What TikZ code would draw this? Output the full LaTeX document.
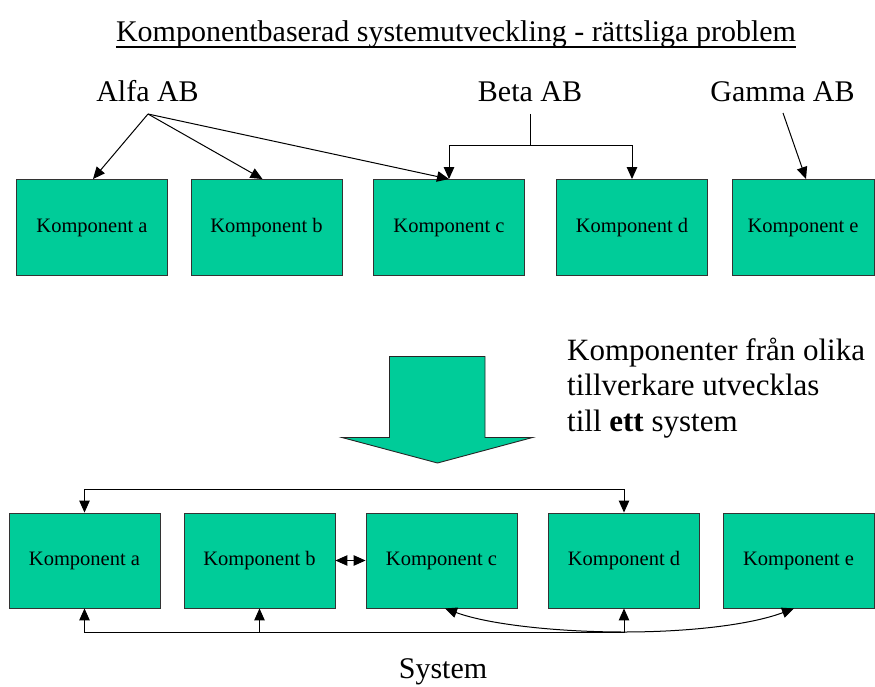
\documentclass[tikz,border=0pt]{standalone}
\usepackage{fontspec}
\setmainfont{Liberation Serif}
\usetikzlibrary{arrows.meta}
\definecolor{boxgreen}{RGB}{0,204,153}
\begin{document}
\begin{tikzpicture}[x=1pt,y=-1pt,
  comp/.style={draw=black!80, line width=0.9pt, fill=boxgreen, minimum width=151pt, minimum height=96pt, inner sep=0pt, font=\fontsize{20.5}{24}\selectfont},
  big/.style={font=\fontsize{30}{36}\selectfont, inner sep=0pt},
  block/.style={font=\fontsize{31}{36}\selectfont, inner sep=0pt},
  conn/.style={draw=black, line width=1pt},
  tip/.tip={Triangle[length=12pt,width=10.5pt]}
]
\useasboundingbox (0,0) rectangle (875,687);
% title
\node[big, anchor=base] (title) at (456,42) {Komponentbaserad systemutveckling - rättsliga problem};
\draw[line width=1.4pt] ([yshift=-5pt]title.base west) -- ([yshift=-5pt]title.base east);
% owners
\node[big, anchor=base] (alfa) at (147.5,102) {Alfa AB};
\node[big, anchor=base] (beta) at (530,102) {Beta AB};
\node[big, anchor=base] (gamma) at (782.5,102) {Gamma AB};
\coordinate (alfaP) at (148,114);
\coordinate (betaP) at (530,114);
\coordinate (betaJ) at (530,146);
\coordinate (gammaP) at (783,113);
% top components
\node[comp] (a1) at (92,227.5) {Komponent a};
\node[comp] (b1) at (266.5,227.5) {Komponent b};
\node[comp] (c1) at (449,227.5) {Komponent c};
\node[comp] (d1) at (632,227.5) {Komponent d};
\node[comp, minimum width=142pt] (e1) at (803,227.5) {Komponent e};
% top arrows
\draw[conn,-{tip}] (alfaP) -- ([xshift=1pt]a1.north);
\draw[conn,-{tip}] (alfaP) -- ([xshift=-4pt]b1.north);
\draw[conn,-{tip}] (alfaP) -- (c1.north);
\draw[conn] (betaP) -- (betaJ);
\draw[conn,-{tip}] (betaJ) -| (c1.north);
\draw[conn,-{tip}] (betaJ) -| (d1.north);
\draw[conn,-{tip}] (gammaP) -- ([xshift=3pt]e1.north);
% big arrow
\draw[fill=boxgreen, draw=black!85, line width=0.9pt] (389.5,356.5) -- (485,356.5) -- (485,437.5) -- (532.5,437.5) -- (437.5,463) -- (342,437.5) -- (389.5,437.5) -- cycle;
% text block
\node[block, anchor=base west] (t1) at (567,360) {Komponenter från olika};
\node[block, anchor=base west] (t2) at (567,395) {tillverkare utvecklas};
\node[block, anchor=base west] (t3) at (567,431) {till \textbf{ett} system};
% bottom components
\node[comp, minimum height=95pt] (a2) at (84.5,560.5) {Komponent a};
\node[comp, minimum height=95pt] (b2) at (259.5,560.5) {Komponent b};
\node[comp, minimum height=95pt] (c2) at (441.5,560.5) {Komponent c};
\node[comp, minimum height=95pt] (d2) at (624,560.5) {Komponent d};
\node[comp, minimum height=95pt] (e2) at (798.5,560.5) {Komponent e};
% bottom connectors
\coordinate (topA) at (84.5,489);
\coordinate (botA) at (84.5,632);
\coordinate (botB) at (259.5,632);
\coordinate (botJ) at (624,632);
\draw[conn,{tip}-{tip}] (a2.north) -- (topA) -| (d2.north);
\draw[conn,{tip}-{tip}] (a2.south) -- (botA) -| (d2.south);
\draw[conn,-{tip}] (botB) -- (b2.south);
\draw[conn,{tip}-{tip}] (b2.east) -- (c2.west);
\draw[conn,-{tip}] (botJ) .. controls (560,632) and (490,625) .. ([xshift=3.5pt]c2.south);
\draw[conn,-{tip}] (botJ) .. controls (688,632) and (750,625) .. ([xshift=-4.5pt]e2.south);
% system label
\node[big, anchor=base] (sys) at (443,678) {System};
\end{tikzpicture}
\end{document}
